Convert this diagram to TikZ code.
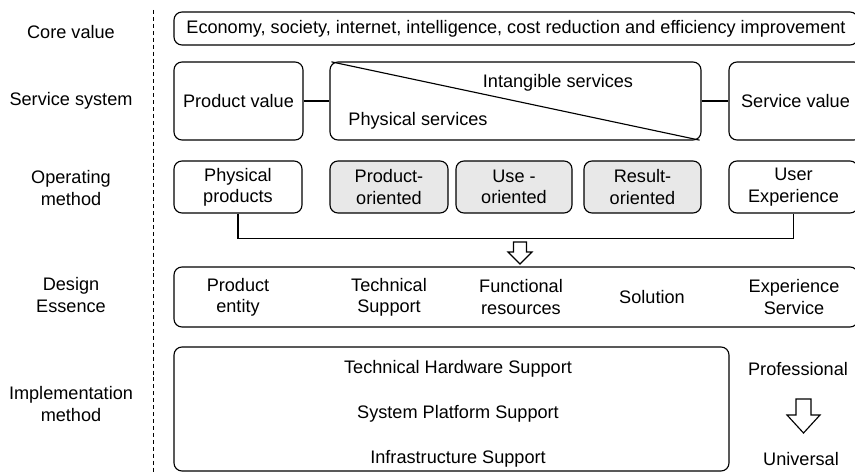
\documentclass[tikz,border=0pt]{standalone}
\usepackage{fontspec}
\setmainfont{Liberation Sans}
\usetikzlibrary{fit}

\begin{document}
\begin{tikzpicture}[x=0.75pt, y=-0.75pt,
        every node/.style={font=\fontsize{13.6}{16}\selectfont, align=center},
        box/.style={draw, line width=0.85pt, rounded corners=6pt, inner sep=0pt},
        shaded/.style={box, fill=gray!18},
        hollow/.style={draw, line width=0.85pt, fill=white, line join=miter}]
        \useasboundingbox (0, 0) rectangle (855, 473);
        \clip (0, 0) rectangle (855, 473);

        % layer names on the left
        \node (lcore) at (71, 32) {Core value};
        \node (lserv) at (71, 101) {Service system};
        \node (lop) at (71, 188) {Operating\\method};
        \node (ldes) at (71, 295) {Design\\Essence};
        \node (limp) at (71, 404) {Implementation\\method};
        \coordinate (dtop) at (153, 10);
        \coordinate (dbot) at (153, 473);
        \draw[line width=0.7pt, dash pattern=on 3pt off 2.2pt] (dtop) -- (dbot);

        % core value
        \node[box, fit={(174, 12) (858, 45)}] (core) {};
        \node at (core.center) {Economy, society, internet, intelligence, cost reduction and efficiency improvement};

        % service system
        \node[box, fit={(174, 62) (303, 140)}] (pval) {};
        \node at (pval.center) {Product value};
        \node[box, fit={(330, 62) (701, 140)}] (serv) {};
        \node[box, fit={(729, 62) (862, 140)}] (sval) {};
        \node at (sval.center) {Service value};
        \draw[line width=0.85pt, shorten <=1.5pt, shorten >=1.5pt] (serv.north west) -- (serv.south east);
        \node (intang) at (558, 83) {Intangible services};
        \node (physs) at (418, 121) {Physical services};
        \draw[line width=0.85pt] (pval) -- (serv);
        \draw[line width=0.85pt] (serv) -- (sval);

        % operating method
        \node[box, fit={(174, 161) (302, 213)}] (phys) {};
        \node at (phys.center) {Physical\\products};
        \node[shaded, fit={(330, 161) (448, 213)}] (prod) {};
        \node at (prod.center) {Product-\\oriented};
        \node[shaded, fit={(456, 161) (572, 213)}] (use) {};
        \node at (use.center) {Use -\\oriented};
        \node[shaded, fit={(584, 161) (701, 213)}] (res) {};
        \node at (res.center) {Result-\\oriented};
        \node[box, fit={(729, 161) (858, 213)}] (ux) {};
        \node at (ux.center) {User\\Experience};
        \draw[line width=0.85pt] (phys.south) -- ++(0, 25) -| (ux.south);
        \draw[hollow] (513.5, 242) -- (526.5, 242) -- (526.5, 252) -- (532, 252)
            -- (520, 264) -- (508, 252) -- (513.5, 252) -- cycle;

        % design essence
        \node[box, fit={(174, 267) (858, 327)}] (des) {};
        \node (entity) at (238, 297) {Product\\entity};
        \node (tech) at (389, 297) {Technical\\Support};
        \node (func) at (521, 297) {Functional\\resources};
        \node (sol) at (652, 297) {Solution};
        \node (exp) at (794, 297) {Experience\\Service};

        % implementation method
        \node[box, fit={(174, 347) (729, 471)}] (imp) {};
        \node (hw) at (458, 369) {Technical Hardware Support};
        \node (plat) at (458, 414) {System Platform Support};
        \node (infra) at (458, 459) {Infrastructure Support};
        \node (pro) at (798, 369) {Professional};
        \node (univ) at (801, 459) {Universal};
        \draw[hollow] (796, 399) -- (811, 399) -- (811, 415) -- (820, 415)
            -- (803.5, 433) -- (787, 415) -- (796, 415) -- cycle;
\end{tikzpicture}
\end{document}
